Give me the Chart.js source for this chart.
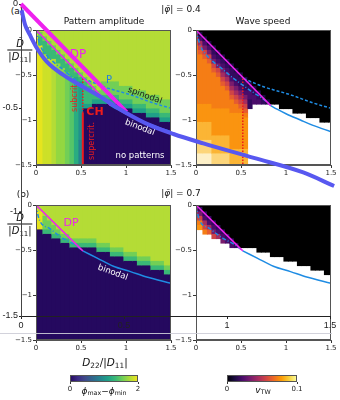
<!DOCTYPE html>
<html lang="en">
<head>
  <meta charset="UTF-8">
  <title>Pattern amplitude and wave speed</title>
  <script src="https://cdn.jsdelivr.net/npm/chart.js"></script>
  <style>
    body { margin: 0; background: #fff; }
    #fig { position: relative; width: 340px; height: 400px; overflow: hidden; font-family: 'DejaVu Sans', sans-serif; color: #111; }
    #fig canvas { position: absolute; }
    .t { position: absolute; white-space: nowrap; line-height: 1; transform: translate(-50%, -50%); }
    .frac { text-align: center; font-size: 10px; }
    .frac .den { border-top: 1px solid #111; padding: 1px 1px 0; margin-top: 1px; }
    sub { font-size: 70%; vertical-align: -0.3em; line-height: 0; }
  </style>
</head>
<body>
<div id="fig">
  <canvas id="ampA" width="179" height="160" style="left:0;top:22px"></canvas>
  <canvas id="speedA" width="164" height="160" style="left:175px;top:22px"></canvas>
  <canvas id="ampB" width="179" height="160" style="left:0;top:197px"></canvas>
  <canvas id="speedB" width="164" height="160" style="left:175px;top:197px"></canvas>
  <canvas id="barAmp" width="90" height="32" style="left:60px;top:370px"></canvas>
  <canvas id="barSpeed" width="95" height="32" style="left:215px;top:370px"></canvas>

  <div class="t" style="left:17px;top:11px;font-size:9px">(a)</div>
  <div class="t" style="left:181px;top:9px;font-size:9px">|<i>φ̄</i>| = 0.4</div>
  <div class="t" style="left:104px;top:21px;font-size:9px">Pattern amplitude</div>
  <div class="t" style="left:263px;top:21px;font-size:9px">Wave speed</div>
  <div class="t" style="left:23px;top:194px;font-size:9px">(b)</div>
  <div class="t" style="left:181px;top:193px;font-size:9px">|<i>φ̄</i>| = 0.7</div>

  <div class="t frac" style="left:20px;top:50px"><div><i>D̃</i></div><div class="den">|<i>D</i><sub>11</sub>|</div></div>
  <div class="t frac" style="left:20px;top:224px"><div><i>D̃</i></div><div class="den">|<i>D</i><sub>11</sub>|</div></div>
  <div class="t" style="left:105px;top:362px;font-size:10.5px"><i>D</i><sub>22</sub>/|<i>D</i><sub>11</sub>|</div>

  <!-- annotations, panel (a) -->
  <div class="t" style="left:78px;top:54px;font-size:12px;color:#ee22ee">DP</div>
  <div class="t" style="left:109px;top:80px;font-size:10px;color:#1f7fe0">P</div>
  <div class="t" style="left:145px;top:95px;font-size:8.5px;color:#1a1a1a;transform:translate(-50%,-50%) rotate(20deg)">spinodal</div>
  <div class="t" style="left:140px;top:127px;font-size:8.5px;color:#fff;transform:translate(-50%,-50%) rotate(21deg)">binodal</div>
  <div class="t" style="left:140px;top:155px;font-size:8.5px;color:#fff">no patterns</div>
  <div class="t" style="left:95px;top:111px;font-size:11px;font-weight:bold;color:#ee1c1c">CH</div>
  <div class="t" style="left:75px;top:97px;font-size:8px;color:#ee1c1c;transform:translate(-50%,-50%) rotate(-90deg)">subcrit.</div>
  <div class="t" style="left:92px;top:141px;font-size:8px;color:#ee1c1c;transform:translate(-50%,-50%) rotate(-90deg)">supercrit.</div>

  <!-- annotations, panel (b) -->
  <div class="t" style="left:71px;top:222px;font-size:11px;color:#ee22ee">DP</div>
  <div class="t" style="left:113px;top:272px;font-size:8.5px;color:#fff;transform:translate(-50%,-50%) rotate(20deg)">binodal</div>

  <div class="t" style="left:104px;top:391px;font-size:9px"><i>ϕ</i><sub>max</sub>−<i>ϕ</i><sub>min</sub></div>
  <div class="t" style="left:263px;top:390px;font-size:9px"><i>v</i><sub>TW</sub></div>

  <div style="position:absolute;left:0;top:333px;width:332px;height:1px;background:rgba(205,205,215,0.9)"></div>

  <canvas id="over" width="340" height="356" style="left:0;top:-10px;pointer-events:none"></canvas>
</div>

<script>
  // grid columns at x = 0, 0.05, ... 1.5; each string runs from y = 0 down to y = -1.5
  // "c*n" = n cells of level c ; '#' = black (v = 0), '.' = no pattern (white)
  const ampA = [
    '8 9*30', '8 7 6*2 9*27', '8*2 7 6*3 p*25', '8*3 7 6*3 p*24', '8*4 7 6*2 8*24',
    '8*5 7 6*2 q*23', '8*6 7 6*2 q*22', '8*7 7 6*2 7*21', '8*8 7 6*2 r*20', '8*9 7 6 s*20',
    '8*10 7 6 5*6 t*7 4*6', '8*11 7 6*5 5 0*13', '8*12 7 6*4 5 0*13', '8*13 7 6*2 5 0*14', '8*14 7 6 5 0*14',
    '8*12 7*3 6 5 0*14', '8*12 7*3 6 5 0*14', '8*12 7*3 6 5 0*14', '8*12 7*3 6 5 0*14',
    '8*13 7*3 6 5 0*13', '8*13 7*3 6 5 0*13', '8*13 7*3 6 5 0*13',
    '8*14 7*3 6 5 0*12', '8*14 7*3 6 5 0*12', '8*14 7*3 6 5 0*12',
    '8*15 7*3 6 5 0*11', '8*15 7*3 6 5 0*11', '8*15 7*3 6 5 0*11',
    '8*16 7*3 6 5 0*10', '8*16 7*3 6 5 0*10', '8*16 7*3 6 5 0*10'
  ];
  const speedA = [
    '0 4 5 6 7*13 8*4 9*4 a*3 b*3',
    '# 0 2 4 5 6 7*11 8*4 9*4 a*3 b*3',
    '#*2 0 2 3 5 6 7*10 8*4 9*4 a*3 b*3',
    '#*3 0 2 3 5 6 7*9 8*4 9*4 a*3 b*3',
    '#*4 0 1 2 3 5 6 7*8 8*6 9*4 a*3',
    '#*5 0 1 2 3 5 6 7*7 8*6 9*4 a*3',
    '#*6 0 1 2 3 4 5 6 7*5 8*6 9*4 a*3',
    '#*7 0 1 2 3 4 5 6 7*4 8*6 9*4 a*3',
    '#*8 0 1 1 2 3 4 5 6 7*3 8*8 9*4',
    '#*9 0 1 1 2 3 4 5 6 7*2 8*8 9*4',
    '#*10 0 1 1 2 3 4 5 6 7 8*8 9*4',
    '#*11 0 1 1 2 3 4 5 6 7 8*7 9*4',
    '#*12 0 1 2 2 1 1 .*13',
    '#*13 0 1 2 2 .*14',
    '#*14 0 1 2 .*14',
    '#*15 0 1 .*14',
    '#*16 0 .*14',
    '#*17 .*14', '#*17 .*14',
    '#*18 .*13', '#*18 .*13', '#*18 .*13',
    '#*19 .*12', '#*19 .*12', '#*19 .*12',
    '#*20 .*11', '#*20 .*11', '#*20 .*11',
    '#*21 .*10', '#*21 .*10', '#*21 .*10'
  ];
  const ampB = [
    '8 9*5 0*25', '8*2 9*4 0*25', '8*3 7*3 6 0*24', '8*4 7*2 6 0*24', '8*5 7*2 6 0*23',
    '8*6 7 6 0*23', '8*7 7 6 0*22', '8*7 7 6 0*22',
    '8*8 7 6 0*21', '8*8 7 6 0*21', '8*8 7 6 0*21', '8*8 7 6 0*21', '8*8 7 6 0*21', '8*8 7 6 0*21',
    '8*9 7 6 0*20', '8*9 7 6 0*20', '8*9 7 6 0*20',
    '8*10 7 6 0*19', '8*10 7 6 0*19', '8*10 7 6 0*19',
    '8*11 7 6 0*18', '8*11 7 6 0*18', '8*11 7 6 0*18',
    '8*12 7 6 0*17', '8*12 7 6 0*17', '8*12 7 6 0*17',
    '8*13 7 6 0*16', '8*13 7 6 0*16', '8*13 7 6 0*16',
    '8*14 7 6 0*15', '8*14 7 6 0*15'
  ];
  const speedB = [
    '0 3 4 5 7 8 .*25', '# 1 3 5 7 8 .*25', '#*2 1 2 4 5 7 .*24', '#*3 1 2 4 6 .*24',
    '#*4 1 2 3 5 .*23', '#*5 1 2 4 .*23', '#*6 1 2 3 .*22', '#*7 1 2 .*22', '#*8 1 2 .*21', '#*9 1 .*21',
    '#*10 .*21', '#*10 .*21', '#*10 .*21', '#*10 .*21',
    '#*11 .*20', '#*11 .*20', '#*11 .*20',
    '#*12 .*19', '#*12 .*19', '#*12 .*19',
    '#*13 .*18', '#*13 .*18', '#*13 .*18',
    '#*14 .*17', '#*14 .*17', '#*14 .*17',
    '#*15 .*16', '#*15 .*16', '#*15 .*16',
    '#*16 .*15', '#*16 .*15'
  ];

  // lines in the panels, [D22/|D11|, D~/|D11|]
  const dpA = [[0, 0], [0.83, -0.84]];
  const innerA = [[0, 0], [0.02, -0.08], [0.05, -0.18], [0.1, -0.26], [0.2, -0.36], [0.3, -0.44], [0.42, -0.54], [0.6, -0.67], [0.79, -0.8], [0.83, -0.84]];
  const spinodalA = [[0.53, -0.54], [0.75, -0.63], [1.05, -0.72], [1.3, -0.81], [1.5, -0.87]];
  const binodalA = [[0.83, -0.84], [0.9, -0.88], [1.0, -0.93], [1.16, -1.0], [1.3, -1.06], [1.5, -1.13]];
  const chSub = [[0.52, -0.54], [0.52, -0.92]];
  const chSuper = [[0.52, -0.92], [0.52, -1.5]];
  const chSpeed = [[0.52, -0.54], [0.52, -1.5]];
  const dpB = [[0, 0], [0.52, -0.51]];
  const innerB = [[0, 0], [0.01, -0.06], [0.04, -0.17], [0.15, -0.26], [0.3, -0.37], [0.43, -0.44], [0.52, -0.51]];
  const binodalB = [[0.52, -0.51], [0.68, -0.59], [0.86, -0.68], [1.05, -0.74], [1.23, -0.8], [1.5, -0.87]];

  // big overlaid axes
  const overBlue = [[0.003, -0.03], [0.02, -0.1], [0.044, -0.15], [0.076, -0.21], [0.125, -0.277], [0.205, -0.341], [0.375, -0.44], [0.513, -0.525], [0.62, -0.58], [0.74, -0.625], [0.885, -0.67], [1.13, -0.74], [1.37, -0.81], [1.52, -0.875]];
  const overMagenta = [[0, 0], [0.513, -0.52]];

  const ampRange = [0, 2];
  const speedRange = [0, 0.1];

  const ampColors = {
    '0': '#25095f', '1': '#3b2a84', '2': '#3f4a8a', '3': '#30678d', '4': '#25838e', 't': '#21918c',
    '5': '#1fa088', 's': '#2aac81', '6': '#3ab877', 'r': '#55c568', '7': '#72cf56', 'q': '#93d741',
    '8': '#b4dc36', 'p': '#cde028', '9': '#e6e41e'
  };
  const speedColors = { '#': '#000000', '0': '#1b0c41', '1': '#320a5e', '2': '#4a0c6b', '3': '#781c6d', '4': '#a52c60', '5': '#cf4446', '6': '#e55c30', '7': '#f57d15', '8': '#fa9410', '9': '#fbb535', 'a': '#fcd57a', 'b': '#fdf0c8' };
  const ampStops = ['#25095f', '#3b2a84', '#3f4a8a', '#30678d', '#25838e', '#1fa088', '#3ab877', '#72cf56', '#b4dc36', '#f2e51e'];
  const speedStops = ['#000004', '#1b0c41', '#4a0c6b', '#781c6d', '#a52c60', '#cf4446', '#ed6925', '#fb9b06', '#f7d13d', '#fcffa4'];

  const cell = 0.05;
  const blue = '#1f8ce3';
  const magenta = '#ee22ee';
  const red = '#ee1c1c';

  function unpack(code) {
    let s = '';
    code.split(' ').forEach(t => {
      const p = t.split('*');
      s += p[0].repeat(p[1] ? +p[1] : 1);
    });
    while (s.length < 31) s += s[s.length - 1];
    return s.slice(0, 31);
  }

  function cellBars(cols, palette) {
    const data = [], colors = [];
    cols.forEach((code, k) => {
      const s = unpack(code);
      let j0 = 0;
      for (let j = 1; j <= s.length; j++) {
        if (j < s.length && s[j] === s[j0]) continue;
        if (s[j0] !== '.') {
          data.push({ x: k * cell, y: [-(j0 - 0.5) * cell, -(j - 0.5) * cell] });
          colors.push(palette[s[j0]]);
        }
        j0 = j;
      }
    });
    return { data, colors };
  }

  function curve(pts, color, width, dash, smooth) {
    return {
      type: 'line',
      data: pts.map(p => ({ x: p[0], y: p[1] })),
      borderColor: color,
      borderWidth: width,
      borderDash: dash || [],
      pointRadius: 0,
      fill: false,
      cubicInterpolationMode: smooth ? 'monotone' : 'default',
      tension: 0,
      order: 1
    };
  }

  const frame = {
    id: 'frame',
    afterDatasetsDraw(chart) {
      const { ctx, chartArea: a } = chart;
      ctx.save();
      ctx.strokeStyle = '#555';
      ctx.lineWidth = 1;
      ctx.strokeRect(a.left + 0.5, a.top + 0.5, a.width - 1, a.height - 1);
      ctx.restore();
    }
  };

  const tickFont = { family: 'DejaVu Sans', size: 7 };
  const fmt = v => (v === 0 ? '0' : v < 0 ? '\u2212' + (-v) : String(v));

  function panel(id, cols, palette, curves, yWidth) {
    const cells = cellBars(cols, palette);
    return new Chart(document.getElementById(id), {
      type: 'bar',
      data: {
        datasets: curves.concat([{
          type: 'bar',
          data: cells.data,
          backgroundColor: cells.colors,
          borderWidth: 0,
          barPercentage: 1,
          categoryPercentage: 1,
          grouped: false,
          clip: 0,
          order: 2
        }])
      },
      options: {
        responsive: false,
        animation: false,
        devicePixelRatio: 1,
        layout: { padding: { left: 0, right: 8, top: 8, bottom: 0 } },
        plugins: { legend: { display: false }, tooltip: { enabled: false } },
        scales: {
          x: {
            type: 'linear', min: 0, max: 1.5, offset: false,
            afterFit: s => { s.height = 17; },
            ticks: { stepSize: 0.5, font: tickFont, color: '#222', padding: 1, maxRotation: 0, callback: fmt },
            grid: { offset: false, drawOnChartArea: false, tickLength: 3, color: '#333' },
            border: { color: '#555' }
          },
          y: {
            type: 'linear', min: -1.5, max: 0,
            afterFit: s => { s.width = yWidth; },
            ticks: { stepSize: 0.5, font: tickFont, color: '#222', padding: 1, callback: fmt },
            grid: { drawOnChartArea: false, tickLength: 3, color: '#333' },
            border: { color: '#555' }
          }
        }
      },
      plugins: [frame]
    });
  }

  panel('ampA', ampA, ampColors, [
    curve(dpA, magenta, 1.5),
    curve(spinodalA, blue, 1.5, [3, 2], true),
    curve(innerA, blue, 1.5, [4, 2, 1, 2], true),
    curve(binodalA, blue, 1.5, null, true),
    curve(chSub, red, 1.5, [1.5, 1.5]),
    curve(chSuper, red, 2)
  ], 36);
  panel('speedA', speedA, speedColors, [
    curve(dpA, magenta, 1.5),
    curve(spinodalA, blue, 1.5, [3, 2], true),
    curve(innerA, blue, 1.5, [4, 2, 1, 2], true),
    curve(binodalA, blue, 1.5, null, true),
    curve(chSpeed, red, 1.5, [1.5, 1.5])
  ], 21);
  panel('ampB', ampB, ampColors, [
    curve(dpB, magenta, 1.5),
    curve(innerB, blue, 1.5, [4, 2, 1, 2], true),
    curve(binodalB, blue, 1.5, null, true)
  ], 36);
  panel('speedB', speedB, speedColors, [
    curve(dpB, magenta, 1.5),
    curve(innerB, blue, 1.5, [4, 2, 1, 2], true),
    curve(binodalB, blue, 1.5, null, true)
  ], 21);

  function colorbar(id, range, stops, padL, padR) {
    return new Chart(document.getElementById(id), {
      type: 'bar',
      data: {
        labels: [''],
        datasets: [{
          data: [range],
          borderWidth: 0,
          barPercentage: 1,
          categoryPercentage: 1,
          backgroundColor: c => {
            const { ctx, chartArea } = c.chart;
            if (!chartArea) return null;
            const g = ctx.createLinearGradient(chartArea.left, 0, chartArea.right, 0);
            stops.forEach((s, i) => g.addColorStop(i / (stops.length - 1), s));
            return g;
          }
        }]
      },
      options: {
        indexAxis: 'y',
        responsive: false,
        animation: false,
        devicePixelRatio: 1,
        layout: { padding: { left: padL, right: padR, top: 5, bottom: 0 } },
        plugins: { legend: { display: false }, tooltip: { enabled: false } },
        scales: {
          x: {
            type: 'linear', min: range[0], max: range[1],
            afterFit: s => { s.height = 20; },
            ticks: { stepSize: range[1] - range[0], font: tickFont, color: '#222', padding: 1 },
            grid: { drawOnChartArea: false, tickLength: 2, color: '#333' },
            border: { display: false }
          },
          y: { display: false }
        }
      },
      plugins: [frame]
    });
  }

  colorbar('barAmp', ampRange, ampStops, 10, 12);
  colorbar('barSpeed', speedRange, speedStops, 12, 13);

  const overFont = { size: 9 };
  const plain = v => String(v);
  new Chart(document.getElementById('over'), {
    type: 'line',
    data: {
      datasets: [
        Object.assign(curve(overBlue, '#5858f0', 4, null, true), { clip: false }),
        Object.assign(curve(overMagenta, magenta, 4), { clip: false })
      ]
    },
    options: {
      responsive: false,
      animation: false,
      devicePixelRatio: 1,
      layout: { padding: { left: 0, right: 10, top: 14, bottom: 0 } },
      plugins: { legend: { display: false }, tooltip: { enabled: false } },
      scales: {
        x: {
          type: 'linear', min: 0, max: 1.5,
          afterFit: s => { s.height = 30; },
          ticks: { stepSize: 0.5, font: overFont, color: '#222', padding: 1, maxRotation: 0, callback: plain },
          grid: { drawOnChartArea: false, tickLength: 3, color: '#222' },
          border: { color: '#222' }
        },
        y: {
          type: 'linear', min: -1.5, max: 0,
          afterFit: s => { s.width = 21; },
          ticks: { stepSize: 0.5, font: overFont, color: '#222', padding: 1, callback: plain },
          grid: { drawOnChartArea: false, tickLength: 2, color: '#222' },
          border: { color: '#444' }
        }
      }
    }
  });
</script>
</body>
</html>
